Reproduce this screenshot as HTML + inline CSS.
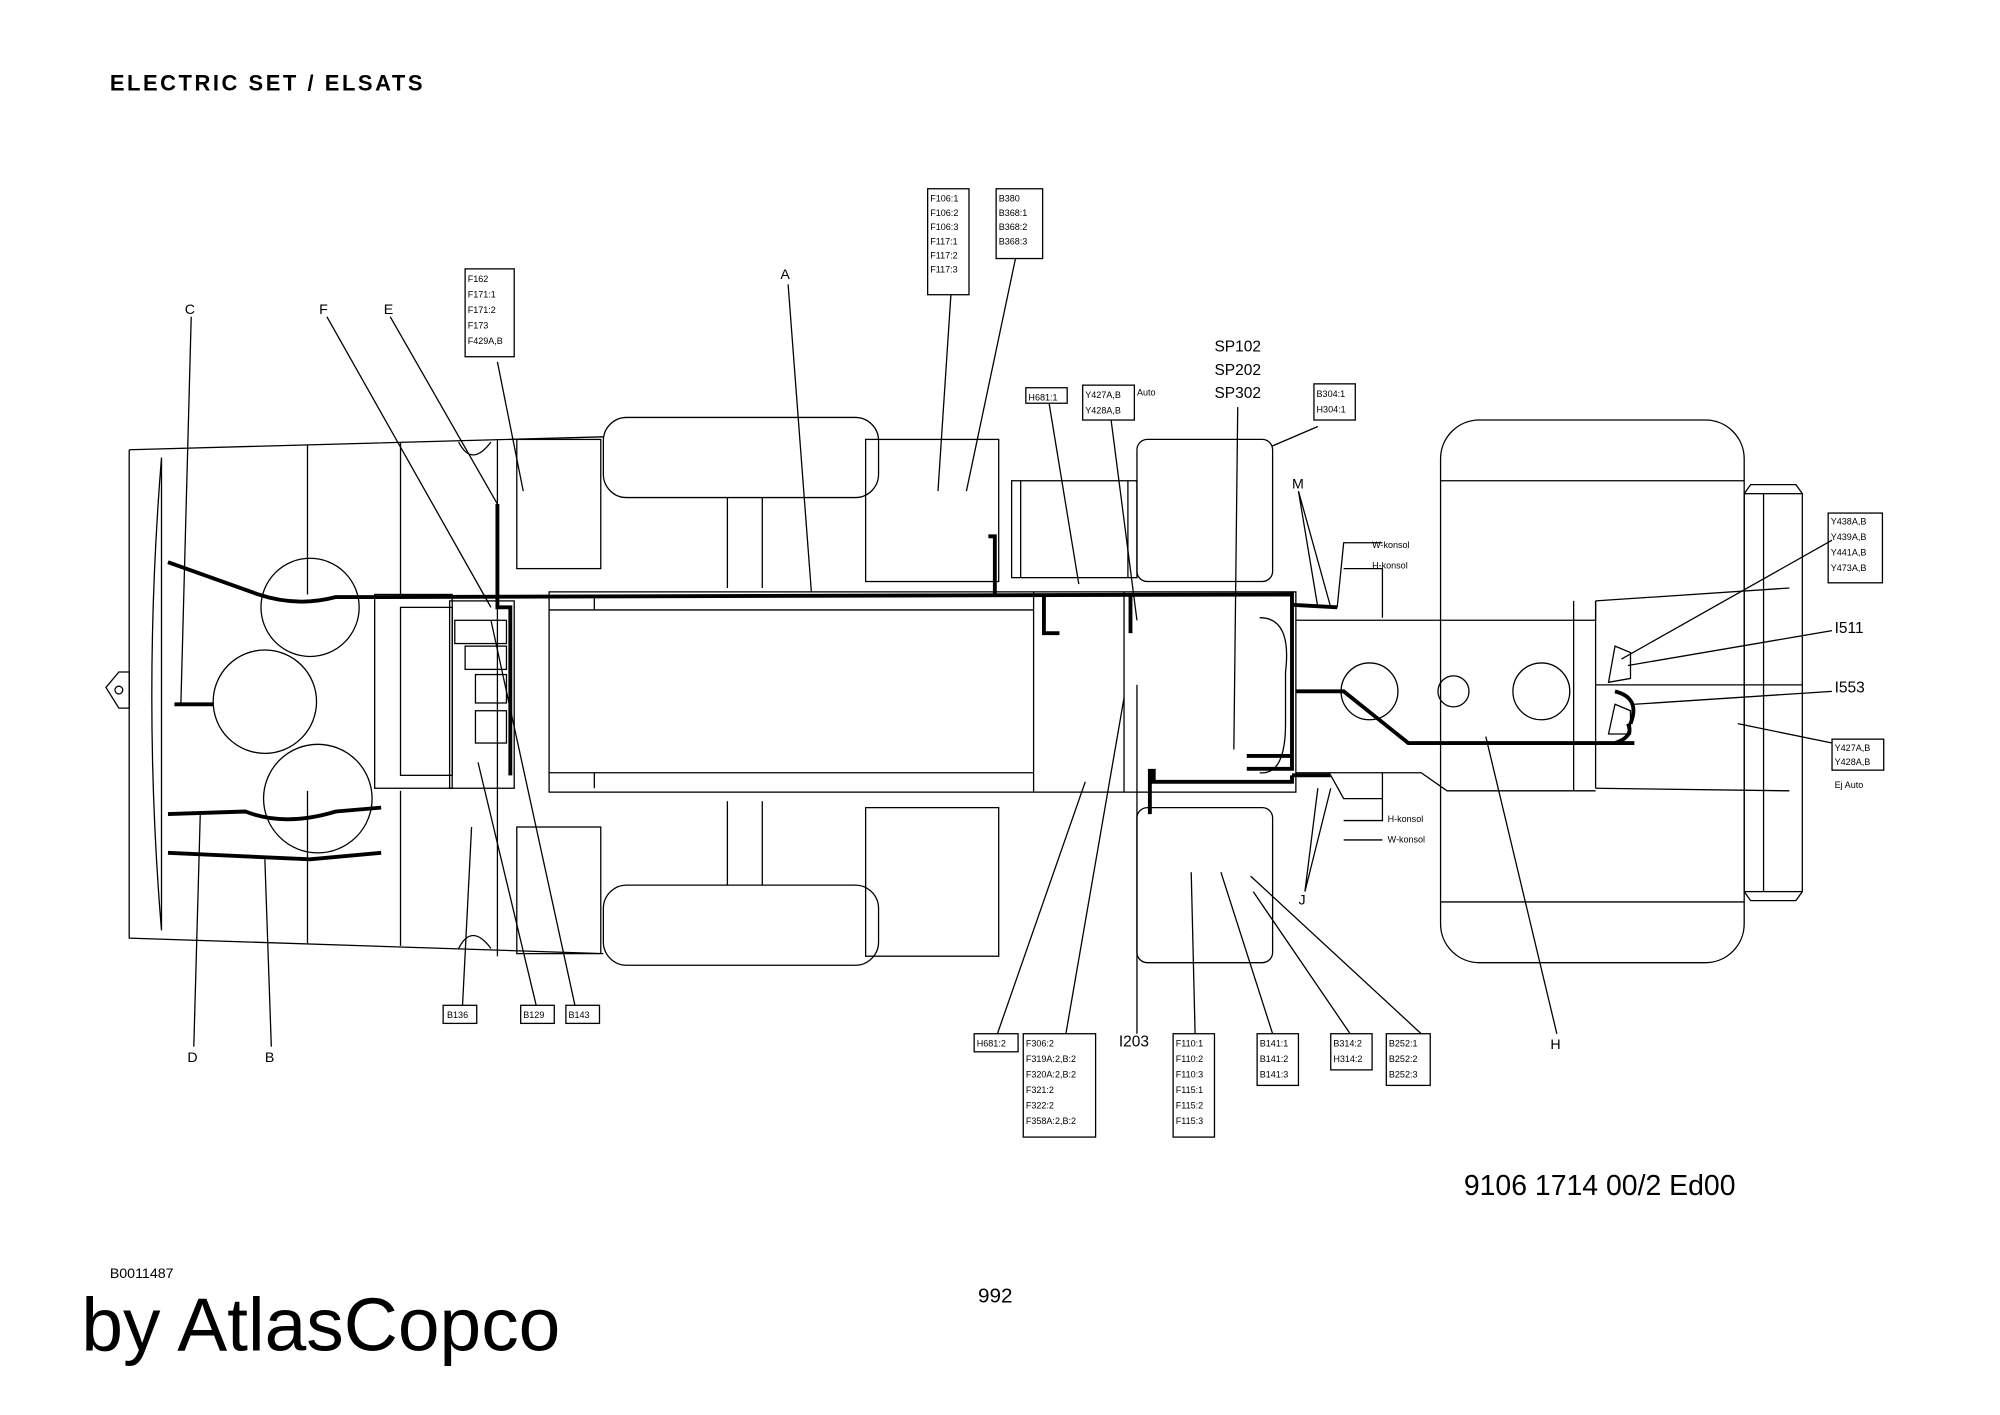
<!DOCTYPE html>
<html><head><meta charset="utf-8"><style>
html,body{margin:0;padding:0;background:#fff}
svg{display:block}
text{font-family:"Liberation Sans",sans-serif;fill:#000}
.t{font-size:7px}
</style></head><body>
<svg width="2000" height="1415" viewBox="0 0 1548 1095" xmlns="http://www.w3.org/2000/svg">
<text x="85" y="70" font-size="17" font-weight="bold" textLength="242">ELECTRIC SET / ELSATS</text>
<text x="1133" y="925" font-size="22">9106 1714 00/2  Ed00</text>
<text x="85" y="989" font-size="11">B0011487</text>
<text x="757" y="1008" font-size="16">992</text>
<text x="63" y="1045" font-size="58">by AtlasCopco</text>

<g fill="none" stroke="#000" stroke-width="1">
<path d="M100 348 L100 726 L467 738 M100 348 L467 338"/>
<path d="M125 354 L125 720 M125 354 Q110 540 125 720"/>
<line x1="238" y1="344" x2="238" y2="460"/><line x1="238" y1="612" x2="238" y2="730"/>
<line x1="310" y1="342" x2="310" y2="460"/><line x1="310" y1="612" x2="310" y2="732"/>
<path d="M355 342 Q365 362 380 342 M355 734 Q365 714 380 734"/>
<rect x="290" y="460" width="60" height="150"/>
<rect x="310" y="470" width="40" height="130"/>
<rect x="348" y="465" width="50" height="145"/>
<rect x="400" y="340" width="65" height="100"/><rect x="400" y="640" width="65" height="98"/>
<line x1="385" y1="340" x2="385" y2="740"/>
<path d="M82 532 L92 520 L100 520 L100 548 L92 548 Z"/><circle cx="92" cy="534" r="3"/>
<circle cx="240" cy="470" r="38"/><circle cx="205" cy="543" r="40"/><circle cx="246" cy="618" r="42"/>
<rect x="467" y="323" width="213" height="62" rx="18"/>
<rect x="467" y="685" width="213" height="62" rx="18"/>
<rect x="670" y="340" width="103" height="110"/><rect x="670" y="625" width="103" height="115"/>
<line x1="563" y1="385" x2="563" y2="455"/><line x1="590" y1="385" x2="590" y2="455"/>
<line x1="563" y1="620" x2="563" y2="685"/><line x1="590" y1="620" x2="590" y2="685"/>
<rect x="783" y="372" width="97" height="75"/><line x1="790" y1="372" x2="790" y2="447"/><line x1="873" y1="372" x2="873" y2="447"/>
<rect x="880" y="340" width="105" height="110" rx="8"/><rect x="880" y="625" width="105" height="120" rx="8"/>
<rect x="425" y="458" width="578" height="155"/>
<path d="M425 472 L460 472 L460 462 M425 598 L460 598 L460 610"/>
<line x1="460" y1="472" x2="800" y2="472"/><line x1="460" y1="598" x2="800" y2="598"/>
<line x1="800" y1="458" x2="800" y2="613"/><line x1="870" y1="458" x2="870" y2="613"/>
<path d="M975 478 Q1000 478 995 520 L995 560 Q995 600 975 598"/>
<path d="M1003 480 L1235 480 L1235 465 M1003 598 L1100 598 L1120 612 L1235 612"/>
<line x1="1218" y1="465" x2="1218" y2="612"/>
<circle cx="1060" cy="535" r="22"/><circle cx="1125" cy="535" r="12"/><circle cx="1193" cy="535" r="22"/>
<rect x="1115" y="325" width="235" height="420" rx="30"/>
<line x1="1115" y1="372" x2="1350" y2="372"/><line x1="1115" y1="698" x2="1350" y2="698"/>
<line x1="1235" y1="465" x2="1235" y2="610"/>
<path d="M1235 465 L1385 455 M1235 610 L1385 612"/>
<line x1="1235" y1="530" x2="1395" y2="530"/>
<rect x="1350" y="382" width="45" height="308"/>
<line x1="1365" y1="382" x2="1365" y2="690"/>
<path d="M1350 382 L1355 375 L1390 375 L1395 382 M1350 690 L1355 697 L1390 697 L1395 690"/>
<path d="M1250 500 L1262 505 L1262 525 L1245 528 Z M1250 545 L1262 550 L1262 568 L1245 568 Z"/>
</g>

<g fill="none" stroke="#000" stroke-width="3">
<path d="M130 435 L200 460 Q230 470 260 462 L292 462 L1000 460 L1000 595 L965 595"/>
<path d="M135 545 L165 545"/>
<path d="M130 630 L190 628 Q220 640 260 628 L295 625"/>
<path d="M130 660 L240 665 L295 660"/>
<path d="M385 390 L385 470 L395 470 L395 600"/>
<path d="M765 415 L770 415 L770 460"/>
<path d="M808 460 L808 490 L820 490"/>
<path d="M875 460 L875 490"/>
<path d="M890 595 L890 630 M893 595 L893 605 L1000 605 L1000 600"/>
<path d="M965 585 L1000 585"/>
<path d="M1000 468 L1035 470 M1000 600 L1030 600"/>
<path d="M1003 535 L1040 535 L1090 575 L1250 575 Q1265 570 1260 560 M1250 535 Q1270 540 1262 560 M1250 575 L1265 575"/>
</g>
<g fill="none" stroke="#000" stroke-width="1">
<rect x="352" y="480" width="40" height="18"/><rect x="360" y="500" width="32" height="18"/><rect x="368" y="522" width="24" height="22"/><rect x="368" y="550" width="24" height="25"/>
<path d="M1035 470 L1040 420 L1070 420 M1040 440 L1070 440 L1070 478 M1030 600 L1040 618 L1070 618 M1040 635 L1070 635 L1070 598 M1040 650 L1070 650"/>
<path d="M148 245 L140 545"/><path d="M253 245 L380 470"/><path d="M302 245 L385 390"/>
<path d="M385 280 L405 380"/><path d="M610 220 L628 458"/><path d="M736 228 L726 380"/><path d="M786 200 L748 380"/>
<path d="M812 312 L835 452"/><path d="M860 325 L880 480"/><path d="M985 345 L1020 330"/><path d="M958 315 L955 580"/>
<path d="M1005 380 L1020 470 M1005 380 L1030 470"/>
<path d="M1010 690 L1020 610 M1010 690 L1030 610"/>
<path d="M150 810 L155 630"/><path d="M210 810 L205 665"/><path d="M358 778 L365 640"/><path d="M415 778 L370 590"/><path d="M445 778 L380 480"/>
<path d="M772 800 L840 605"/><path d="M825 800 L870 540"/><path d="M880 800 L880 530"/><path d="M925 800 L922 675"/>
<path d="M985 800 L945 675"/><path d="M1045 800 L970 690"/><path d="M1100 800 L968 678"/>
<path d="M1205 800 L1150 570"/><path d="M1418 418 L1255 510"/><path d="M1418 488 L1260 515"/><path d="M1418 535 L1265 545"/><path d="M1418 575 L1345 560"/>
</g>

<g class="t">
<text x="143" y="243" font-size="11">C</text><text x="247" y="243" font-size="11">F</text><text x="297" y="243" font-size="11">E</text><text x="604" y="216" font-size="11">A</text>
<text x="145" y="822" font-size="11">D</text><text x="205" y="822" font-size="11">B</text><text x="1000" y="378" font-size="11">M</text><text x="1005" y="700" font-size="11">J</text><text x="1200" y="812" font-size="11">H</text>
<text x="940" y="272" font-size="12">SP102</text><text x="940" y="290" font-size="12">SP202</text><text x="940" y="308" font-size="12">SP302</text>
<text x="866" y="810" font-size="12">I203</text><text x="1420" y="490" font-size="12">I511</text><text x="1420" y="536" font-size="12">I553</text>
<text x="1062" y="424" font-size="7">W-konsol</text><text x="1062" y="440" font-size="7">H-konsol</text>
<text x="1074" y="636" font-size="7">H-konsol</text><text x="1074" y="652" font-size="7">W-konsol</text>
<text x="880" y="306" font-size="7">Auto</text><text x="1420" y="610" font-size="7">Ej Auto</text>
</g>
<g fill="none" stroke="#000" stroke-width="1">
<rect x="360" y="208" width="38" height="68"/><rect x="718" y="146" width="32" height="82"/><rect x="771" y="146" width="36" height="54"/>
<rect x="794" y="300" width="32" height="12"/><rect x="838" y="298" width="40" height="27"/><rect x="1017" y="297" width="32" height="28"/>
<rect x="1415" y="397" width="42" height="54"/><rect x="1418" y="572" width="40" height="24"/>
<rect x="343" y="778" width="26" height="14"/><rect x="403" y="778" width="26" height="14"/><rect x="438" y="778" width="26" height="14"/>
<rect x="754" y="800" width="34" height="14"/><rect x="792" y="800" width="56" height="80"/><rect x="908" y="800" width="32" height="80"/>
<rect x="973" y="800" width="32" height="40"/><rect x="1030" y="800" width="32" height="28"/><rect x="1073" y="800" width="34" height="40"/>
</g>
<g class="t">
<text x="362" y="218">F162</text><text x="362" y="230">F171:1</text><text x="362" y="242">F171:2</text><text x="362" y="254">F173</text><text x="362" y="266">F429A,B</text>
<text x="720" y="156">F106:1</text><text x="720" y="167">F106:2</text><text x="720" y="178">F106:3</text><text x="720" y="189">F117:1</text><text x="720" y="200">F117:2</text><text x="720" y="211">F117:3</text>
<text x="773" y="156">B380</text><text x="773" y="167">B368:1</text><text x="773" y="178">B368:2</text><text x="773" y="189">B368:3</text>
<text x="796" y="310">H681:1</text><text x="840" y="308">Y427A,B</text><text x="840" y="320">Y428A,B</text>
<text x="1019" y="307">B304:1</text><text x="1019" y="319">H304:1</text>
<text x="1417" y="406">Y438A,B</text><text x="1417" y="418">Y439A,B</text><text x="1417" y="430">Y441A,B</text><text x="1417" y="442">Y473A,B</text>
<text x="1420" y="581">Y427A,B</text><text x="1420" y="592">Y428A,B</text>
<text x="346" y="788">B136</text><text x="405" y="788">B129</text><text x="440" y="788">B143</text>
<text x="756" y="810">H681:2</text>
<text x="794" y="810">F306:2</text><text x="794" y="822">F319A:2,B:2</text><text x="794" y="834">F320A:2,B:2</text><text x="794" y="846">F321:2</text><text x="794" y="858">F322:2</text><text x="794" y="870">F358A:2,B:2</text>
<text x="910" y="810">F110:1</text><text x="910" y="822">F110:2</text><text x="910" y="834">F110:3</text><text x="910" y="846">F115:1</text><text x="910" y="858">F115:2</text><text x="910" y="870">F115:3</text>
<text x="975" y="810">B141:1</text><text x="975" y="822">B141:2</text><text x="975" y="834">B141:3</text>
<text x="1032" y="810">B314:2</text><text x="1032" y="822">H314:2</text>
<text x="1075" y="810">B252:1</text><text x="1075" y="822">B252:2</text><text x="1075" y="834">B252:3</text>
</g>
</svg>
</body></html>
